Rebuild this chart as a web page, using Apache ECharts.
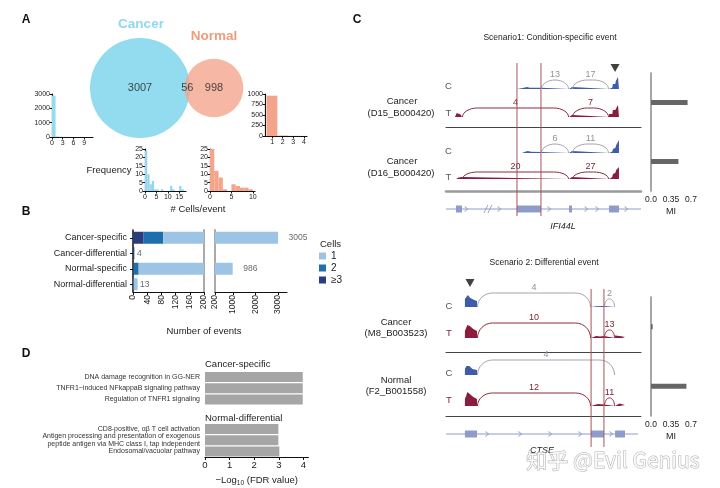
<!DOCTYPE html>
<html><head><meta charset="utf-8">
<script src="https://cdn.jsdelivr.net/npm/echarts@6.0.0/dist/echarts.min.js"></script>
<style>html,body{margin:0;padding:0;background:#fff}#c{width:720px;height:488px}</style>
</head><body><div id="c"></div>
<script>
// ================= DATA =================
// Panel A – Venn
const vennSets = ['Cancer', 'Normal'];
const vennOnly = [3007, 998];
const vennShared = 56;
const vennLabelPos = [0, 0.64, 1];          // set-space position of the three counts
// Panel A – histograms (# cells / event), bin width 1
const cancerHistTop = [2880, 40, 20, 12, 8, 6, 4, 3, 3, 2, 2];   // bins from 0
const normalHistTop = [960, 12, 4, 2];                            // bins from 0.5
const cancerHistZoom = [24, 10, 4, 6, 1, 1, 0, 1, 0, 0, 0, 3, 1, 0, 0, 3, 1]; // bins from 0
const normalHistZoom = [25, 12, 8, 1, 0, 4, 3, 2, 2, 1];          // bins from 0
// Panel B
const bCategories = ['Cancer-specific', 'Cancer-differential', 'Normal-specific', 'Normal-differential'];
const bCells1 = [2920, 0, 970, 11];
const bCells2 = [55, 1, 14, 1];
const bCells3 = [30, 3, 2, 1];
const bLeftTicks = [0, 40, 80, 120, 160, 200];
const bRightTicks = [200, 1000, 2000, 3000];
// Panel D
const dCancerTerms = ['DNA damage recognition in GG-NER', 'TNFR1\u2212induced NFkappaB signaling pathway', 'Regulation of TNFR1 signaling'];
const dCancerVals = [3.97, 3.97, 3.97];
const dNormalTerms = ['CD8-positive, \u03b1\u03b2 T cell activation', 'Antigen processing and presentation of exogenous\npeptide antigen via MHC class I, tap independent', 'Endosomal/vacuolar pathway'];
const dNormalVals = [2.98, 2.98, 3.02];
// Panel C – Scenario 1 (IFI44L)
const s1Exons = [[5.1, 8.2], [36.4, 48.7], [63.1, 64.6], [83.6, 88.7]];
const s1Span = [0, 100];
const s1Chevrons = [10.3, 27.2, 52.8, 71.8, 77.4, 92.3];
const s1Breaks = [21.5];
const s1Guides = [36.4, 48.7];
const s1Marker = [86.7];
const s1MI = [0.64, 0.48];
const s1CovC1 = [[36.4,0],[36.4,1.2],[40,1.2],[41.5,2],[43,1.3],[48.7,1.2],[48.7,0],[63.1,0],[63.1,2],[64.6,2],[64.6,0],[83.6,0],[83.6,1.5],[85.3,1.5],[85.6,5],[86.8,5],[87.1,8],[87.8,9],[88.2,12],[88.7,14],[88.7,0]];
const s1CovT1 = [[4.6,0],[4.6,2],[5.5,4],[6.5,3.5],[7.5,2.5],[8.2,2],[8.2,0],[63.1,0],[63.1,2],[64.6,2],[64.6,0],[83.6,0],[83.6,3],[85.3,3],[85.6,7],[86.8,7],[87.1,9],[87.8,8],[88.2,12],[88.7,13],[88.7,0]];
const s1CovC2 = [[39,0],[39,1],[40.5,1.2],[42,2],[43.5,1.2],[48.7,1],[48.7,0],[63.1,0],[63.1,2],[64.6,2],[64.6,0],[83.6,0],[83.6,1.5],[85.3,1.5],[85.6,4],[86.8,5],[87.3,8],[88.2,10],[88.7,13],[88.7,0]];
const s1CovT2 = [[5.1,0],[5.1,1],[6.5,1.5],[8.2,2],[8.2,0],[63.1,0],[63.1,2],[64.6,2],[64.6,0],[83.6,0],[83.6,2],[85.3,2],[85.6,5],[86.8,6],[87.3,9],[88,9],[88.7,12],[88.7,0]];
const s1JuncC1 = [[48.7, 63.1, 13], [64.6, 83.6, 17]];
const s1JuncT1 = [[8.2, 63.1, 4], [64.6, 83.6, 7]];
const s1JuncC2 = [[48.7, 63.1, 6], [64.6, 83.6, 11]];
const s1JuncT2 = [[8.2, 63.1, 20], [64.6, 83.6, 27]];
// Panel C – Scenario 2 (CTSE)
const s2Exons = [[9.7, 15.9], [74.4, 81], [86.7, 91.8]];
const s2Span = [0, 98.5];
const s2Chevrons = [21, 37.9, 53.3, 68.7, 84.6];
const s2Breaks = [];
const s2Guides = [74.4, 81];
const s2Marker = [12.3];
const s2MI = [0.03, 0.62];
const s2CovC1 = [[9.7,0],[9.7,8],[10.5,10],[11.2,12],[12,10],[12.5,9],[13.5,8],[14.5,7],[15.9,6],[15.9,0],[74.4,0],[74.4,1],[77,0.8],[81,1],[81,0],[86.7,0],[86.7,1],[91.8,1],[91.8,0]];
const s2CovT1 = [[9.7,0],[9.7,7],[10.3,10],[11,13],[11.6,15],[12.2,12],[13,11],[14,9],[15,8],[15.9,7],[15.9,0],[74.4,0],[74.4,1.5],[77,2],[79,1.5],[81,2],[81,0],[86.7,0],[86.7,2.5],[89,2],[90.5,1.5],[91.8,1],[91.8,0]];
const s2CovC2 = [[9.7,0],[9.7,6],[10.5,9],[11.2,11],[12,9],[12.8,8],[13.5,6],[14.5,5],[15.9,5],[15.9,0],[86.7,0],[86.7,1],[91.8,1],[91.8,0]];
const s2CovT2 = [[9.7,0],[9.7,7],[10.3,10],[11,14],[11.6,15],[12.2,12],[13,11],[14,9],[15,8],[15.9,7],[15.9,0],[74.4,0],[74.4,1.5],[76,1],[78,2],[81,1.5],[81,0],[86.7,0],[86.7,2],[89,2.5],[91.8,1],[91.8,0]];
const s2JuncC1 = [[15.9, 74.4, 4], [81, 86.7, 2]];
const s2JuncT1 = [[15.9, 74.4, 10], [81, 86.7, 13]];
const s2JuncC2 = [[15.9, 86.7, 4]];
const s2JuncT2 = [[15.9, 74.4, 12], [81, 86.7, 11]];

// ================= BUILD =================
const FONT = '"Liberation Sans", Arial, Helvetica, sans-serif';
const grid = [], xAxis = [], yAxis = [], series = [], graphic = [];
function addGrid(g) { grid.push(g); return grid.length - 1; }
function addX(o) { xAxis.push(o); return xAxis.length - 1; }
function addY(o) { yAxis.push(o); return yAxis.length - 1; }
function hiddenV(gi, min, max) { return { type: 'value', gridIndex: gi, min, max, show: false }; }
function txt(x, y, t, o) {
  graphic.push({ type: 'text', x, y, silent: true, z: 50,
    style: Object.assign({ text: t, fill: '#222', fontSize: 9, fontFamily: FONT, align: 'center', verticalAlign: 'middle' }, o || {}) });
}
const BLACK = '#111';
const plain = v => String(v);

// ---------- Panel A: Venn ----------
{
  const gi = addGrid({ left: 140, top: 78, width: 74, height: 20 });
  const xi = addX(hiddenV(gi, 0, 1)), yi = addY(hiddenV(gi, -1, 1));
  const totals = [vennOnly[0] + vennShared, vennOnly[1] + vennShared];
  const cols = ['#93dcf0', '#f3a48a'];
  series.push({ type: 'scatter', xAxisIndex: xi, yAxisIndex: yi, silent: true, clip: false, z: 1,
    symbolSize: v => Math.sqrt(v[2]) * 1.807,
    data: totals.map((t, i) => ({ value: [i, 0, t], itemStyle: { color: cols[i], opacity: i ? 0.78 : 1 } })) });
  const counts = [vennOnly[0], vennShared, vennOnly[1]];
  series.push({ type: 'scatter', xAxisIndex: xi, yAxisIndex: yi, silent: true, clip: false, z: 3,
    symbolSize: 1, itemStyle: { color: 'rgba(0,0,0,0)' },
    label: { show: true, position: 'inside', formatter: p => String(p.value[2]), fontSize: 11, color: '#222', fontFamily: FONT },
    data: counts.map((c, i) => [vennLabelPos[i], 0, c]) });
}
txt(141, 24, vennSets[0], { fill: '#8fd8ee', fontSize: 13.5, fontWeight: 'bold' });
txt(214, 36, vennSets[1], { fill: '#ef9c7e', fontSize: 13.5, fontWeight: 'bold' });

// ---------- Panel A: histograms ----------
function histogram(pos, xr, xt, yr, yt, counts, start, color) {
  const gi = addGrid(pos);
  const line = { show: true, onZero: false, lineStyle: { color: BLACK, width: 1.2 } };
  const xi = addX({ type: 'value', gridIndex: gi, min: xr[0], max: xr[1], axisLine: line,
    axisTick: { show: true, length: 2.5, customValues: xt, lineStyle: { color: BLACK } },
    axisLabel: { customValues: xt, formatter: plain, fontSize: 7, color: '#222', margin: 2.5, fontFamily: FONT }, splitLine: { show: false } });
  const yi = addY({ type: 'value', gridIndex: gi, min: yr[0], max: yr[1], axisLine: line,
    axisTick: { show: true, length: 2.5, customValues: yt, lineStyle: { color: BLACK } },
    axisLabel: { customValues: yt, formatter: plain, fontSize: 7, color: '#222', margin: 2, fontFamily: FONT }, splitLine: { show: false } });
  series.push({ type: 'custom', xAxisIndex: xi, yAxisIndex: yi, clip: true, silent: true,
    data: counts.map((c, i) => [start + i, start + i + 1, c]), encode: { x: [0, 1], y: 2 },
    renderItem: (p, api) => {
      const a = api.coord([api.value(0), api.value(2)]), b = api.coord([api.value(1), 0]);
      return { type: 'rect', shape: { x: a[0], y: a[1], width: b[0] - a[0], height: Math.max(b[1] - a[1], 0.4) }, style: { fill: color } };
    } });
}
histogram({ left: 52, top: 94, width: 41, height: 43 }, [0, 11.5], [0, 3, 6, 9], [0, 3000], [0, 1000, 2000, 3000], cancerHistTop, 0, '#93dcf0');
histogram({ left: 265, top: 94, width: 42, height: 42 }, [0.33, 4.3], [1, 2, 3, 4], [0, 1000], [0, 250, 500, 750, 1000], normalHistTop, 0.5, '#f3a48a');
histogram({ left: 145, top: 149, width: 41, height: 42 }, [0, 18], [0, 5, 10, 15], [0, 25], [0, 5, 10, 15, 20, 25], cancerHistZoom, 0, '#93d6ef');
histogram({ left: 210, top: 149, width: 45, height: 42 }, [0, 10.5], [0, 5, 10], [0, 25], [0, 5, 10, 15, 20, 25], normalHistZoom, 0, '#f3a48a');
txt(109, 170, 'Frequency', { fontSize: 9.5 });
txt(198, 209, '# Cells/event', { fontSize: 9.5 });

// ---------- Panel B ----------
const bTotals = bCategories.map((_, i) => bCells1[i] + bCells2[i] + bCells3[i]);
{
  const axLine = { show: true, onZero: false, lineStyle: { color: BLACK, width: 1.2 } };
  const gL = addGrid({ left: 133, top: 230, width: 71, height: 62 });
  const xL = addX({ type: 'value', gridIndex: gL, min: 0, max: 200, interval: 40, axisLine: axLine,
    axisTick: { show: true, length: 3, lineStyle: { color: BLACK } },
    axisLabel: { rotate: 90, formatter: plain, fontSize: 8.5, color: '#222', margin: 3, fontFamily: FONT, customValues: bLeftTicks }, splitLine: { show: false } });
  const yL = addY({ type: 'category', gridIndex: gL, data: bCategories, inverse: true,
    axisLine: { show: true, lineStyle: { color: BLACK, width: 1.5 } },
    axisTick: { show: true, length: 3, alignWithLabel: true, lineStyle: { color: BLACK } },
    axisLabel: { interval: 0, fontSize: 9, color: '#222', margin: 6, fontFamily: FONT } });
  addY({ type: 'category', gridIndex: gL, position: 'right', data: bCategories, inverse: true,
    axisLine: { show: true, lineStyle: { color: '#aaa', width: 2 } }, axisTick: { show: false }, axisLabel: { show: false } });
  const gR = addGrid({ left: 215, top: 230, width: 72, height: 62 });
  const xR = addX({ type: 'value', gridIndex: gR, min: 200, max: 3400, axisLine: axLine,
    axisTick: { show: true, length: 3, customValues: bRightTicks, lineStyle: { color: BLACK } },
    axisLabel: { rotate: 90, formatter: plain, fontSize: 8.5, color: '#222', margin: 3, fontFamily: FONT, customValues: bRightTicks }, splitLine: { show: false } });
  const yR = addY({ type: 'category', gridIndex: gR, data: bCategories, inverse: true,
    axisLine: { show: true, lineStyle: { color: '#aaa', width: 2 } }, axisTick: { show: false }, axisLabel: { show: false } });
  const cellSeries = [['\u22653', bCells3, '#2a3b7e'], ['2', bCells2, '#1f6fac'], ['1', bCells1, '#9dc4e5']];
  [[xL, yL, 'L'], [xR, yR, 'R']].forEach(([gx, gy, stk]) => {
    cellSeries.forEach(([n, d, c]) => series.push({ type: 'bar', name: n, xAxisIndex: gx, yAxisIndex: gy, stack: stk,
      data: d, barWidth: 12, itemStyle: { color: c }, clip: true, silent: true }));
  });
  const lbl = (dist) => ({ show: true, position: 'right', distance: dist, formatter: p => String(p.value[0]), fontSize: 8.5, color: '#444', fontFamily: FONT });
  series.push({ type: 'scatter', xAxisIndex: xL, yAxisIndex: yL, symbolSize: 1, itemStyle: { color: 'rgba(0,0,0,0)' }, silent: true, clip: false,
    label: lbl(2), data: bTotals.map((t, i) => [t, i]).filter(d => d[0] < 200) });
  series.push({ type: 'scatter', xAxisIndex: xR, yAxisIndex: yR, symbolSize: 1, itemStyle: { color: 'rgba(0,0,0,0)' }, silent: true, clip: false,
    label: lbl(10), data: bTotals.map((t, i) => [t, i]).filter(d => d[0] >= 200) });
}
txt(320, 244, 'Cells', { fontSize: 9.5, align: 'left' });
txt(204, 331, 'Number of events', { fontSize: 9.5 });

// ---------- Panel D ----------
{
  const g1 = addGrid({ left: 205, top: 371.5, width: 103.4, height: 33.5 });
  const x1 = addX(hiddenV(g1, 0, 4.2));
  const y1 = addY({ type: 'category', gridIndex: g1, data: dCancerTerms, inverse: true, axisLine: { show: false }, axisTick: { show: false },
    axisLabel: { interval: 0, fontSize: 7, color: '#333', margin: 5, fontFamily: FONT, lineHeight: 8 } });
  series.push({ type: 'bar', xAxisIndex: x1, yAxisIndex: y1, data: dCancerVals, barWidth: 10, itemStyle: { color: '#a6a6a6' }, silent: true });
  const g2 = addGrid({ left: 205, top: 423.5, width: 103.4, height: 34.5 });
  const x2 = addX({ type: 'value', gridIndex: g2, min: 0, max: 4.2, interval: 1,
    axisLine: { show: true, onZero: false, lineStyle: { color: BLACK, width: 1.2 } },
    axisTick: { show: true, length: 3, lineStyle: { color: BLACK } },
    axisLabel: { fontSize: 9.5, color: '#222', margin: 3, fontFamily: FONT, showMaxLabel: false }, splitLine: { show: false },
    name: '\u2212Log{s|10} (FDR value)', nameLocation: 'middle', nameGap: 17,
    nameTextStyle: { fontSize: 9.5, color: '#222', fontFamily: FONT, rich: { s: { fontSize: 6.5, fontFamily: FONT, color: '#222', padding: [6, 0, 0, 0] } } } });
  const y2 = addY({ type: 'category', gridIndex: g2, data: dNormalTerms, inverse: true, axisLine: { show: false }, axisTick: { show: false },
    axisLabel: { interval: 0, fontSize: 7, color: '#333', margin: 5, fontFamily: FONT, lineHeight: 8 } });
  series.push({ type: 'bar', xAxisIndex: x2, yAxisIndex: y2, data: dNormalVals, barWidth: 10, itemStyle: { color: '#a6a6a6' }, silent: true });
}
txt(205, 364, 'Cancer-specific', { fontSize: 9.5, align: 'left' });
txt(205, 418, 'Normal-differential', { fontSize: 9.5, align: 'left' });

// ---------- Panel C: sashimi ----------
const SX = 446, SW = 195, COV = 16;
const COLS = { C: { cov: '#3f5cab', arc: '#a0a5ae', lab: '#8d929a' }, T: { cov: '#8c1c3c', arc: '#8c2a3c', lab: '#7a2333' } };
function sashimi(sc) {
  sc.tracks.forEach((t, k) => {
    const gi = addGrid({ left: SX, top: t.base - COV, width: SW, height: COV });
    const xi = addX({ type: 'value', gridIndex: gi, min: 0, max: 100, offset: t.sep || 0,
      axisLine: { show: !!t.sep, onZero: false, lineStyle: { color: t.sepColor || '#444', width: t.sepW || 1 } },
      axisTick: { show: false }, axisLabel: { show: false }, splitLine: { show: false } });
    const yi = addY(hiddenV(gi, 0, COV));
    const c = COLS[t.kind];
    series.push({ type: 'line', xAxisIndex: xi, yAxisIndex: yi, data: t.cov, symbol: 'none', silent: true,
      lineStyle: { width: 0, opacity: 0 }, areaStyle: { color: c.cov, opacity: 1 }, z: 2 });
    const H = t.arcH;
    series.push({ type: 'custom', xAxisIndex: xi, yAxisIndex: yi, data: t.junc, encode: { x: [0, 1] }, clip: false, silent: true, z: 3,
      renderItem: (p, api) => {
        const s = api.coord([api.value(0), 0]), e = api.coord([api.value(1), 0]);
        const x1 = s[0] + 0.5, x2 = e[0] - 0.5, y = s[1], span = x2 - x1;
        const h = Math.min(H, span * 0.8), r = Math.min(15, span / 2), top = y - h, K = 0.55;
        const st = { stroke: c.arc, fill: 'none', lineWidth: 1 };
        return { type: 'group', children: [
          { type: 'bezierCurve', shape: { x1: x1, y1: y, cpx1: x1, cpy1: y - h * K, cpx2: x1 + r * (1 - K), cpy2: top, x2: x1 + r, y2: top }, style: st },
          { type: 'line', shape: { x1: x1 + r, y1: top, x2: x2 - r, y2: top }, style: st },
          { type: 'bezierCurve', shape: { x1: x2 - r, y1: top, cpx1: x2 - r * (1 - K), cpy1: top, cpx2: x2, cpy2: y - h * K, x2: x2, y2: y }, style: st },
          { type: 'text', x: (x1 + x2) / 2, y: top - 0.5, style: { text: String(api.value(2)), fill: c.lab, fontSize: 9, fontFamily: FONT, align: 'center', verticalAlign: 'bottom' } }
        ] };
      } });
    if (k === 0) {
      series.push({ type: 'scatter', xAxisIndex: xi, yAxisIndex: yi, silent: true, clip: false, z: 4,
        data: sc.marker.map(m => [m, COV]), symbol: 'triangle', symbolRotate: 180, symbolSize: [9, 8],
        symbolOffset: [0, sc.markerOff], itemStyle: { color: '#111' } });
    }
  });
  // gene model
  {
    const gi = addGrid({ left: SX, top: sc.geneY - 6, width: SW, height: 12 });
    const xi = addX(hiddenV(gi, 0, 100)), yi = addY(hiddenV(gi, 0, 1));
    const gc = '#8e9ccc';
    series.push({ type: 'line', xAxisIndex: xi, yAxisIndex: yi, data: sc.span.map(v => [v, 0.5]), symbol: 'none', silent: true,
      lineStyle: { color: gc, width: 1.2 } });
    series.push({ type: 'custom', xAxisIndex: xi, yAxisIndex: yi, data: sc.exons, encode: { x: [0, 1] }, clip: false, silent: true, z: 3,
      renderItem: (p, api) => {
        const a = api.coord([api.value(0), 0.5]), b = api.coord([api.value(1), 0.5]);
        return { type: 'rect', shape: { x: a[0], y: a[1] - 3.5, width: b[0] - a[0], height: 7 }, style: { fill: gc } };
      } });
    series.push({ type: 'scatter', xAxisIndex: xi, yAxisIndex: yi, data: sc.chevrons.map(v => [v, 0.5]), silent: true, clip: false,
      symbol: 'path://M0,0L5,4L0,8', symbolSize: [3, 5], itemStyle: { color: 'rgba(0,0,0,0)', borderColor: gc, borderWidth: 1 } });
    if (sc.breaks.length) series.push({ type: 'scatter', xAxisIndex: xi, yAxisIndex: yi, data: sc.breaks.map(v => [v, 0.5]), silent: true, clip: false,
      symbol: 'path://M0,10L4,0M4,10L8,0', symbolSize: [8, 8], itemStyle: { color: 'rgba(0,0,0,0)', borderColor: '#7d8cbc', borderWidth: 1 } });
  }
  // highlight guides
  {
    const gi = addGrid({ left: SX, top: sc.frame[0], width: SW, height: sc.frame[1] - sc.frame[0] });
    const xi = addX(hiddenV(gi, 0, 100)), yi = addY(hiddenV(gi, 0, 1));
    series.push({ type: 'custom', xAxisIndex: xi, yAxisIndex: yi, data: sc.guides.map(v => [v]), encode: { x: 0 }, clip: false, silent: true, z: 6,
      renderItem: (p, api) => {
        const a = api.coord([api.value(0), 1]), b = api.coord([api.value(0), 0]);
        return { type: 'line', shape: { x1: a[0], y1: a[1], x2: b[0], y2: b[1] }, style: { stroke: '#a5545c', lineWidth: 1 } };
      } });
  }
  // MI bars
  {
    const gi = addGrid({ left: 651, top: sc.mi[0], width: 40, height: sc.mi[1] });
    const xi = addX({ type: 'value', gridIndex: gi, min: 0, max: 0.7, axisLine: { show: false }, axisTick: { show: false }, splitLine: { show: false },
      axisLabel: { customValues: [0, 0.35, 0.7], formatter: v => v === 0 ? '0.0' : String(v), fontSize: 8.5, color: '#222', margin: 4, fontFamily: FONT },
      name: 'MI', nameLocation: 'middle', nameGap: 16, nameTextStyle: { fontSize: 9, color: '#222', fontFamily: FONT } });
    const yi = addY({ type: 'category', gridIndex: gi, data: ['a', 'b'], inverse: true,
      axisLine: { show: true, lineStyle: { color: '#888', width: 1.5 } }, axisTick: { show: false }, axisLabel: { show: false } });
    series.push({ type: 'bar', xAxisIndex: xi, yAxisIndex: yi, data: sc.miVals, barWidth: 5, itemStyle: { color: '#666' }, silent: true });
  }
}
sashimi({
  tracks: [
    { cov: s1CovC1, junc: s1JuncC1, kind: 'C', base: 89, arcH: 9 },
    { cov: s1CovT1, junc: s1JuncT1, kind: 'T', base: 117, arcH: 9, sep: 10, sepColor: '#444', sepW: 1 },
    { cov: s1CovC2, junc: s1JuncC2, kind: 'C', base: 153, arcH: 9 },
    { cov: s1CovT2, junc: s1JuncT2, kind: 'T', base: 179, arcH: 7, sep: 12, sepColor: '#9a9a9a', sepW: 2.5 }
  ],
  exons: s1Exons, span: s1Span, chevrons: s1Chevrons, breaks: s1Breaks, guides: s1Guides,
  marker: s1Marker, markerOff: -5, geneY: 209, frame: [63, 216], mi: [73, 118], miVals: s1MI
});
sashimi({
  tracks: [
    { cov: s2CovC1, junc: s2JuncC1, kind: 'C', base: 307, arcH: 14 },
    { cov: s2CovT1, junc: s2JuncT1, kind: 'T', base: 338, arcH: 15, sep: 14, sepColor: '#444', sepW: 1 },
    { cov: s2CovC2, junc: s2JuncC2, kind: 'C', base: 375, arcH: 15 },
    { cov: s2CovT2, junc: s2JuncT2, kind: 'T', base: 406, arcH: 13, sep: 10, sepColor: '#444', sepW: 1 }
  ],
  exons: s2Exons, span: s2Span, chevrons: s2Chevrons, breaks: s2Breaks, guides: s2Guides,
  marker: s2Marker, markerOff: -8, geneY: 434, frame: [289, 447], mi: [297, 119], miVals: s2MI
});
// Panel C texts
txt(550, 38, 'Scenario1: Condition-specific event', { fontSize: 8.5 });
txt(544, 263, 'Scenario 2: Differential event', { fontSize: 8.5 });
const gray = '#555', red = '#8c1c3c';
txt(448.5, 86, 'C', { fontSize: 9.5, fill: gray }); txt(448.5, 113, 'T', { fontSize: 9.5, fill: gray });
txt(448.5, 151, 'C', { fontSize: 9.5, fill: gray }); txt(448.5, 177, 'T', { fontSize: 9.5, fill: gray });
txt(402, 101, 'Cancer', { fontSize: 9.5 }); txt(401, 113, '(D15_B000420)', { fontSize: 9.5 });
txt(402, 161, 'Cancer', { fontSize: 9.5 }); txt(401, 173, '(D16_B000420)', { fontSize: 9.5 });
txt(563, 226, 'IFI44L', { fontSize: 9, fontStyle: 'italic' });
txt(449, 306, 'C', { fontSize: 9.5, fill: gray }); txt(449, 333, 'T', { fontSize: 9.5, fill: red });
txt(449, 373, 'C', { fontSize: 9.5, fill: gray }); txt(449, 400, 'T', { fontSize: 9.5, fill: red });
txt(396, 322, 'Cancer', { fontSize: 9.5 }); txt(396, 333, '(M8_B003523)', { fontSize: 9.5 });
txt(396, 380, 'Normal', { fontSize: 9.5 }); txt(396, 391, '(F2_B001558)', { fontSize: 9.5 });
txt(542, 450, 'CTSE', { fontSize: 9, fontStyle: 'italic' });
// panel letters
txt(26, 20, 'A', { fontSize: 12, fontWeight: 'bold', fill: '#111' });
txt(26, 212, 'B', { fontSize: 12, fontWeight: 'bold', fill: '#111' });
txt(357, 20, 'C', { fontSize: 12, fontWeight: 'bold', fill: '#111' });
txt(26, 354, 'D', { fontSize: 12, fontWeight: 'bold', fill: '#111' });
// watermark
txt(613, 460, '\u77e5\u4e4e @Evil Genius', { fontSize: 21, fontFamily: '"Noto Sans CJK SC", "Noto Sans", sans-serif', fill: 'rgba(255,255,255,0.85)', stroke: 'rgba(110,110,110,0.55)', lineWidth: 1 });

const chart = echarts.init(document.getElementById('c'));
chart.setOption({
  animation: false,
  backgroundColor: '#fff',
  textStyle: { fontFamily: FONT },
  legend: { data: ['1', '2', '\u22653'], orient: 'vertical', left: 319, top: 251, itemWidth: 7, itemHeight: 7, itemGap: 2, icon: 'rect',
    padding: 0, selectedMode: false, textStyle: { fontSize: 10, color: '#222', fontFamily: FONT } },
  grid, xAxis, yAxis, series, graphic
});
</script></body></html>
